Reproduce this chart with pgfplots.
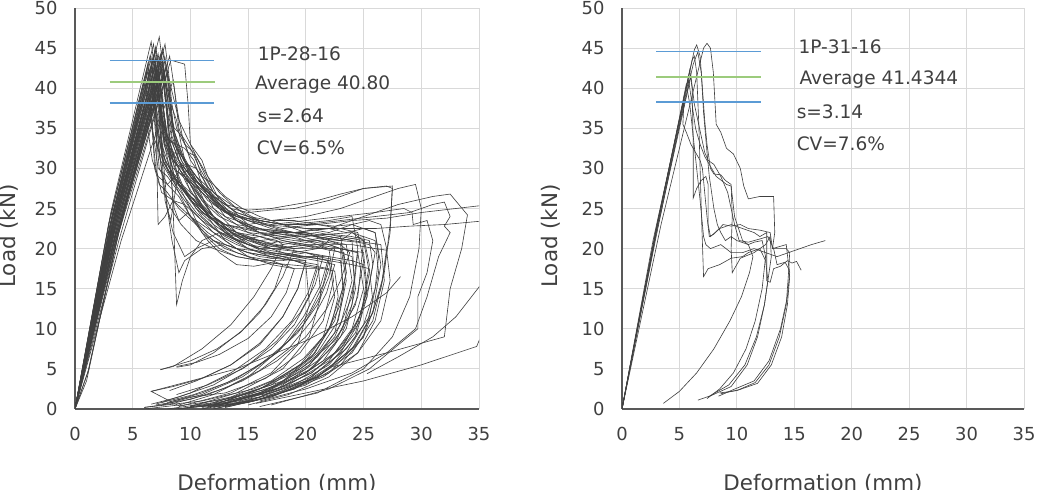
\documentclass[border=0pt]{standalone}
\usepackage{pgfplots}
\pgfplotsset{compat=1.18}
\usepackage{fontspec}
\setmainfont{DejaVu Sans}
\definecolor{avgblue}{HTML}{5B9BD5}
\definecolor{avggreen}{HTML}{9CCB7C}
\definecolor{txt}{HTML}{404040}
\tikzset{cv/.style={draw=black!75, line width=0.62bp}}
\pgfplotsset{myax/.style={
  width=404bp, height=401bp, scale only axis, anchor=south west,
  xmin=0, xmax=35, ymin=0, ymax=50,
  xtick={0,5,...,35}, ytick={0,5,...,50},
  grid=major, grid style={draw=black!15, line width=0.9bp},
  axis x line*=bottom, axis y line*=left,
  axis line style={draw=black!65, line width=1.1bp, -},
  major tick length=0pt,
  tick label style={font=\fontsize{18}{20}\selectfont, text=txt},
  /pgf/number format/assume math mode=true,
  yticklabel style={xshift=-14bp},
  xticklabel style={yshift=-15bp},
  clip=true}}
\begin{document}
\begin{tikzpicture}[x=1bp,y=1bp]
% ---------------- left chart ----------------
\begin{axis}[myax, at={(75bp,81bp)}]
\addplot[cv] coordinates {(0,0)(3.5,24.5)(7.3,46.4)(7.6,43)(8.0,36)(8.6,30)(9.5,27)(11,24.5)(13,23)(15,22)(18,21.5)(21,22)(23,21.5)(23.5,17)(22.5,11)(20.5,6.5)(17,3)(12,0.8)(8,0)};
\addplot[cv] coordinates {(0,0)(3.2,24)(6.8,45.5)(7.2,41)(7.5,33)(8.5,29)(10,27)(12,24)(14,22)(17,20)(20,19.5)(22,19)(21.3,15.5)(19.8,11.5)(17.8,7.5)(15,4)(12,1.8)(9,0.5)(6,0)};
\addplot[cv] coordinates {(0,0)(3,23.5)(6.5,44)(7,38)(7.8,31)(9,28)(11,25)(13,22)(16,21)(19,21.5)(24,22)(25,21)(24.5,14)(23,9)(20.5,5)(16,2)(11,0.3)};
\addplot[cv] coordinates {(0,0)(3.6,22.5)(7.8,43.8)(8.2,40)(8.5,35)(9.5,31)(10.5,28)(12,26)(14,24)(16,23)(18,22.8)(20,22.5)(22,22)(24,23)(26,22)(26.5,18)(25.8,12)(24,7.5)(21,4)(16,1.2)(12,0)};
\addplot[cv] coordinates {(0,0)(3.3,23)(7,43)(7.3,39)(7.6,32)(8,25)(8.3,23.5)(9,30)(10,28)(11,25)(13,22)(15,20)(18,19)(20,18.5)(19.3,15)(18,11.5)(16,8)(13.5,5.5)(10.5,3.5)(8.2,2.3)};
\addplot[cv] coordinates {(0,0)(2.9,23)(6.2,42)(6.6,36)(7.0,30)(7.5,27)(8.5,26)(10,24)(12,22)(14,20)(16,19)(19,18.5)(21,18)(20.2,14.5)(18.8,11)(16.5,7.5)(13.5,4.5)(10,2)(7,0.6)};
\addplot[cv] coordinates {(0,0)(3.4,22)(7.5,42.5)(8,37)(8.8,33)(9.5,32.5)(10.3,31)(11,28)(12,25)(14,22)(16,20.5)(19,20)(23,20)(24.5,19.5)(24,13)(22.5,8)(20,4.5)(16,1.8)(11,0)};
\addplot[cv] coordinates {(0,0)(3.8,22)(8.3,43.5)(9.5,43)(9.8,38)(10,33)(11,30)(12,27)(13.5,25)(15,24.5)(17,24.8)(19,25)(22,26)(25,27.5)(27.5,27.8)(27.3,22)(26.5,15)(25,9)(22,4.5)(17,1.5)(13,0.2)};
\addplot[cv] coordinates {(0,0)(3.2,24)(6.9,44.5)(7.2,40)(7.4,34)(7.8,26)(8.5,22)(9.5,19)(10.5,20)(12,21)(14,20)(17,19.5)(20,19)(22,18.5)(22.5,14)(21.5,9)(19.5,5.5)(16,2.5)(12,0.5)};
\addplot[cv] coordinates {(0,0)(3.1,22)(6.6,41)(7,35)(7.3,30)(8,28)(9,29.5)(10,28)(11.5,24)(13,21)(15,19)(17,18)(19,17.5)(21,17.5)(20.3,14)(19,10.5)(17,7.5)(14.5,5)(11.5,3)(8.8,1.8)};
\addplot[cv] coordinates {(0,0)(3.4,23.5)(7.6,45)(8.1,41)(8.4,35)(9,31)(10,29)(11.5,27)(13,24)(15,22)(17,21)(19,20.5)(21,21)(23,21.5)(25,21)(25.5,17)(24.7,11)(23,7)(20,3.5)(15,1)(11,0)};
\addplot[cv] coordinates {(0,0)(3.5,21)(7.2,40.5)(7.5,37)(8,33)(8.5,32)(9,28)(10,26)(11.5,24.5)(13,23)(15,22.5)(18,22)(21,21)(23,20.5)(23.5,16)(22.8,11)(21,7)(18,3.5)(13,1)(9,0)};
\addplot[cv] coordinates {(0,0)(3,21.5)(6.4,39)(6.8,34)(7.2,30)(8,29)(9,27)(10,25)(12,22)(14,20.5)(16,19.5)(18,19)(20,18)(22,17.5)(21.2,14)(19.8,10.5)(17.5,7)(14.5,4)(11,1.8)(7.5,0.5)};
\addplot[cv] coordinates {(0,0)(3.8,21)(8,42)(8.5,39)(9,36)(10,33)(11,31)(11.5,29)(12.5,27)(14,25)(16,23.5)(18,23)(20,23.2)(22,23.5)(24,24)(24.5,20)(24,14)(22.5,9)(20,5)(16,2)(12,0.2)};
\addplot[cv] coordinates {(0,0)(3.2,24)(7,44.8)(7.4,40)(7.7,33)(8.5,30)(9.5,29)(10.5,27.5)(12,24)(14,21.5)(16,20)(18,20.5)(20,21)(22,21.5)(24,21)(24.2,16)(23.2,10)(21,6)(17.5,2.5)(12.5,0.5)};
\addplot[cv] coordinates {(0,0)(3,23.5)(6.3,43)(6.6,38)(6.9,30)(7.3,28)(8,27)(9,25)(10.5,23)(12,21)(14,19.5)(16,18.5)(18,18)(19,17.5)(18.3,14.5)(17,11.5)(15,8.8)(12.5,6.8)(10.5,5.8)(8.8,5.3)};
\addplot[cv] coordinates {(0,0)(3.6,21.5)(7.7,41.5)(8.1,38)(8.6,35)(9.3,34)(10,32.5)(10.8,30)(12,27)(13.5,25)(15,23)(17,22)(19,21.5)(21,20.5)(23,20)(25,19.5)(25.3,15)(24.3,9.5)(22,5.5)(18,2.2)(13,0.3)};
\addplot[cv] coordinates {(0,0)(3.1,23)(6.7,42.5)(7,37)(7.3,32)(8,25)(8.4,21)(9,17)(9.5,18.5)(11,20)(13,20.5)(15,19.5)(17,19)(19,18.5)(20,18)(20.3,13)(19.3,8)(17,4.5)(13.5,2)(9,0.3)};
\addplot[cv] coordinates {(0,0)(3.4,22.5)(7.4,43.2)(7.8,39)(8.2,34)(9,31)(10,28)(11.5,25.5)(13,24)(15,23)(17,23.5)(20,24)(23,25)(26,26.5)(28,27.5)(29.5,28)(30,25)(29.8,20)(29,14)(27.5,9)(25,5)(21,2)(16,0.3)};
\addplot[cv] coordinates {(0,0)(3.4,21)(7.1,40)(7.4,36)(7.8,33)(8.5,31)(9.2,30)(10,28.5)(11,26)(12.5,23)(14,21)(16,20)(18,20)(20,20.5)(22,20.5)(23,20)(23.2,15)(22,10)(20,6)(16.5,2.8)(12,0.5)};
\addplot[cv] coordinates {(0,0)(2.9,22)(6.1,40.5)(6.4,37)(6.8,34)(7.3,32)(8,30)(9,27)(10,24)(11.5,21.5)(13,20)(15,19)(17,18.5)(18,18)(17.3,15)(16,12)(14.3,9.5)(12.3,7.5)(10,6)(7.4,4.9)};
\addplot[cv] coordinates {(0,0)(3.8,22.5)(8.2,44)(8.6,40)(9,35)(9.8,32)(10.5,31.5)(11.5,29)(12.5,26)(14,23.5)(16,22)(18,21.5)(20,21)(22,20.5)(24,20.5)(26,20)(27,19.8)(27.3,16)(26.5,11)(24.5,7)(21.5,4)(17,1.5)(13,0.2)};
\addplot[cv] coordinates {(0,0)(3.3,20.5)(6.8,38.5)(7.1,35)(7.4,31)(7.7,27)(8.3,25)(9.2,23)(10.5,21)(12,20)(14,19)(16,18.5)(18,19)(20,19.5)(21.5,19)(20.8,15.5)(19.5,12)(17.5,8.5)(15,5.5)(12,3)(9,1.5)(6.6,0.6)};
\addplot[cv] coordinates {(0,0)(3.5,23)(7.5,44)(7.9,40)(8.2,33)(8.5,25)(8.8,13)(9.3,16)(10,19)(11,21)(12.5,22)(14,21.5)(16,21)(18,20)(20,19.5)(21,19)(21.3,14)(20.3,9)(18,5)(14,2)(10,0.3)};
\addplot[cv] coordinates {(0,0)(3.7,22)(7.9,42.8)(8.3,38)(8.7,33)(9.5,30)(10.5,28.5)(11.5,27)(13,24.5)(15,23)(17,22)(19,22)(21,21.5)(23,21)(25,21.5)(26,21)(26.3,17)(25.5,11.5)(23.5,7.5)(20.5,4)(16,1.5)(12,0)};
\addplot[cv] coordinates {(0,0)(3.1,24.5)(6.6,45.8)(7.0,41)(7.3,36)(7.6,31)(8.4,29)(9.5,27)(11,24)(12.5,22)(14,21)(16,21.5)(18,22)(20,22)(22,21)(23.5,20.5)(24,16)(23,10.5)(21,6.5)(17.5,3)(13,0.8)(10,0.3)};
\addplot[cv] coordinates {(0,0)(3.5,22)(7.3,41.8)(7.6,38)(8,34)(8.8,31)(9.8,29)(11,27)(12.5,25)(14,24)(16,23.5)(18,23)(20,22.5)(23,22.5)(26,22.5)(29,22.8)(32,23)(35,23.4)(37,23.5)(36,12)(34.8,7.8)(30,5.5)(25,3.5)(20,2)(15.7,0.7)};
\addplot[cv] coordinates {(0,0)(3.2,23)(6.9,43.5)(7.3,39)(7.7,34)(8.5,31)(9.5,29)(11,26)(12.5,24)(14,23)(16,22.5)(19,22)(22,22.5)(25,24)(28,25.5)(31,26.5)(32.5,26.8)(34,24.2)(33.5,20)(32.5,15)(32,9)(27,7)(22.4,5.3)};
\addplot[cv] coordinates {(0,0)(3.5,22.5)(7.6,43)(8,39)(8.4,34)(9.2,31)(10.2,29)(11.5,27)(13,25)(15,23.5)(17,23)(20,23.5)(23,24)(26,24.5)(28.5,25)(29.2,24.5)(29.3,23)(30.5,23.5)(31,21)(30.5,17)(29.7,14)(29.7,10)(28,8)(25.5,5)(22,2.5)(17,0.5)};
\addplot[cv] coordinates {(0,0)(3.3,22.5)(7,42)(7.3,38)(7.7,34)(8.3,32)(9,31)(10,29)(11.5,27)(13,25.5)(15,24.8)(17,25)(19,25.5)(21,26)(23,26.8)(25,27.5)(27,27.8)(27.5,27.5)(27.3,23)(26.8,17)(25.8,11)(24,7)(21,4)(17,2)(13,1)};
\addplot[cv] coordinates {(0,0)(3.1,22.5)(6.5,42.2)(6.8,39)(7.1,35)(7.5,32)(8.2,30)(9,28.5)(10,26)(11.5,24)(13,22.5)(15,21)(17,20)(19,19)(21,18.5)(22.5,18)(21.8,14.5)(20.5,11)(18.5,7.5)(16,4.8)(13,2.6)(10,1.2)(7,0.5)};
\addplot[cv] coordinates {(0,0)(3.6,23.5)(7.8,45.5)(8.1,42)(8.4,38)(8.8,35)(9.5,33)(10.3,32)(11,29)(12,26)(13.5,24)(15,22.5)(17,21.5)(19,21)(21,21)(23,20)(24.5,19.5)(25,15)(24,10)(22,6)(18.5,3)(14,0.8)(10,0.2)};
\addplot[cv] coordinates {(0,0)(2.9,21)(6,38)(6.3,35)(6.7,31)(7.2,29)(8,28)(9,26.5)(10,24)(11.5,22)(13,20.5)(15,19.5)(17,19)(19,19.5)(21,20)(22.5,20)(22,16.5)(21,13)(19.3,9.5)(17,6.5)(14,3.8)(11,2)(8,0.8)};
\addplot[cv] coordinates {(0,0)(3.3,23)(7.1,43.7)(7.5,39)(7.9,33)(8.6,29)(9.3,27)(10,25)(11,22)(12.5,20)(14,19)(16,18.5)(18,18.5)(20,19)(22,19)(24,18.5)(25,18)(25.3,14)(24.3,9)(22.3,5.5)(19,2.5)(15,0.8)(11,0.2)};
\addplot[cv] coordinates {(0,0)(4,21)(8.5,41)(8.9,37)(9.3,34)(10,31)(11,29)(12,28)(13,26.5)(14.5,25)(16,24)(18,23)(20,22)(22,21.5)(24,21)(26.5,20.5)(26.8,16)(26,11)(24.5,7)(22,4)(18.5,1.8)(15,0.5)};
\addplot[cv] coordinates {(0,0)(3.2,23.5)(6.8,44)(7,38)(7.1,30)(7.2,23)(7.8,24)(8.5,26)(9.5,25.5)(11,23.5)(13,21.5)(15,20)(17,19)(19,18.5)(20,18.5)(19.3,15)(18,11.5)(16,8.2)(13.5,5.5)(11,3.8)(8.5,2.8)(6.6,2.2)};
\addplot[cv] coordinates {(0,0)(3.5,21.5)(7.4,40.8)(7.7,37)(8.1,33)(8.8,30.5)(9.5,30)(10.5,28)(11.5,26)(13,24.5)(15,23.5)(17,22.5)(19,22)(21,21.5)(23,21)(24,22)(25,21.5)(25.5,18)(24.8,12)(23.3,8)(20.5,4.5)(16,1.5)(11.5,0.3)};
\addplot[cv] coordinates {(0,0)(3.4,22)(7.2,42)(7.6,38)(8,34)(8.7,31)(9.7,28)(11,25)(12.5,23)(14,22)(16,21.5)(17.5,21)(18,20.5)(17,17.5)(15.5,14)(13.5,10.5)(11,7.5)(8.5,5.3)(7.4,4.9)};
\addplot[cv] coordinates {(0,0)(3.2,22)(6.7,41)(7,37)(7.4,33)(8,30)(9,28)(10.3,26)(12,23.5)(13.5,22)(15,21)(17,20.5)(19,20)(18,16.5)(16.5,13)(14.5,9.8)(12,7)(10,5.5)(8.8,5.2)};
\addplot[cv] coordinates {(0,0)(3.5,23.5)(7.6,44.6)(8,41)(8.4,36)(9,32)(10,30)(11,28)(12.5,26)(14,24.5)(16,23.5)(18,23)(20,23)(23,23.5)(26,24)(29,24.5)(31,25.5)(32,25.8)(32.5,24)(32,22.8)(32.5,22)(31.5,19)(30.5,14)(29.5,10)(27,7)(24,4.5)(20,2.5)(16,1)};
\addplot[cv] coordinates {(0,0)(3.3,22)(7,42.3)(7.4,38)(7.8,34)(8.5,31)(9.5,29)(11,27)(12.5,25)(14,24)(16,23.5)(18,23)(21,23)(24,23.5)(27,23.8)(30,24.5)(33,25)(36,25.5)(37,20)(35,15.2)(33,11.5)(31,9)(28,6.5)(25.3,4.4)};
\addplot[cv] coordinates {(0,0)(1.2,5)(3.8,22)(7.7,42.5)(8.1,39)(8.5,35)(9.2,32)(10,30)(11,28)(12.5,25.5)(14,23.5)(16,22)(18,21)(20,20.5)(22,20)(24,19)(24.3,15)(23.5,10)(21.5,6)(18,2.8)(13,0.7)(9,0)};
\addplot[cv] coordinates {(0,0)(1.1,4.5)(3.7,21.5)(7.3,41.2)(7.7,37)(8,33)(8.6,29)(9.5,27)(10.5,26)(12,24)(13.5,22)(15,20.5)(17,19.5)(19,19)(21,19)(23,18.5)(23.3,14.5)(22.5,9.5)(20.3,5.5)(17,2.5)(12.5,0.5)(8.5,0)};
\addplot[cv] coordinates {(0,0)(3.4,23)(7.2,44.3)(7.5,41)(7.8,35)(8.4,31)(9.3,28)(10.5,25)(12,23)(13.5,21.5)(15,20.5)(17,20)(19,20.3)(21,20.5)(22,20)(22.4,16)(21.5,11)(19.5,7)(16.5,3.8)(13,2)(10,1.5)(8.5,1)};
\addplot[cv] coordinates {(0,0)(3,22.8)(6.4,42.6)(6.7,39)(7,34)(7.4,31)(8.2,29)(9.2,27)(10.5,24.5)(12,22.5)(14,21)(16,20)(18,19.5)(20,19)(22,18.5)(24,18)(25.5,17.5)(25.8,13.5)(25,9)(23,5.5)(20,3)(16,1.2)(12,0.3)};
\addplot[cv] coordinates {(0,0)(3.6,22)(7.7,42)(8.1,38)(8.6,34)(9.4,31)(10.5,29)(12,27)(13.5,25.5)(15,24)(17,23.5)(19,23.5)(21,23)(23,22.5)(24.5,22)(25,18.5)(24.3,13)(22.5,8.5)(19.5,5)(15.5,2.5)(11,1)(6,0.2)};
\addplot[cv] coordinates {(0,0)(3.3,23.5)(7.0,45.2)(7.3,42)(7.5,37)(7.8,33)(8.2,31.5)(8.7,32)(9.3,30)(10,27)(10.8,26)(11.5,24)(12.5,23.5)(13.5,22)(15,21.5)(16.5,20.5)(18,21)(19.5,20.5)(21,20)(22,21)(23,20.5)(23.8,19.5)(23,16)(21.8,12.5)(20,9)(17.5,6)(14.5,3.5)(11.5,1.8)(8.5,0.7)(6,0.2)};
\addplot[cv] coordinates {(0,0)(3.4,22)(7.4,42.8)(7.7,40)(8,36)(8.3,29)(8.6,25)(9,23.5)(9.8,24.5)(10.5,23)(11.5,21)(12.5,19.5)(14,18)(15.5,17.8)(17,18.2)(18.5,18)(20,17.8)(21.5,17.5)(22.5,17.2)(22.8,14)(22.2,10.5)(20.8,7)(18.5,4.2)(15.5,2.2)(12,0.8)};
\addplot[cv] coordinates {(0,0)(3.2,22.5)(6.9,43)(7.2,40)(7.5,36.5)(8,34)(8.5,33)(9,31)(9.5,29.5)(10,30)(10.5,28.5)(11.3,27)(12.2,25.5)(13.2,24.5)(14.5,24)(16,23.2)(17.5,22.5)(19,22)(20.5,22.3)(22,22.5)(23.5,22)(25,22.5)(26,22)(26.3,19)(26,15)(25,10.5)(23.5,7)(21,4)(17.5,1.8)(14,0.6)};
\addplot[cv] coordinates {(0,0)(3.1,23)(6.6,43.8)(6.9,40)(7.2,35)(7.6,31)(8.1,29.5)(8.8,28)(9.5,27.5)(10.3,26)(11,24.5)(12,23.5)(13,22.5)(14.5,21.8)(16,21)(17.5,20.5)(19,20)(20.5,20.3)(22,19.8)(23.3,19.5)(23.5,17)(23,13)(21.8,9.5)(19.8,6.3)(17,3.5)(13.5,1.5)(10,0.4)};
\addplot[cv] coordinates {(0,0)(3.6,22.5)(7.6,43.4)(7.9,40.5)(8.3,38)(8.8,36)(9.2,33)(9.6,30.5)(10.3,29)(11,27.5)(12,26.5)(13,25.5)(14,24.5)(15,24)(16.5,23)(18,22.5)(19.5,22.8)(21,23)(22.5,22.8)(24,23)(25.5,23.5)(26.5,23)(27,20)(26.6,16)(25.8,12)(24.3,8)(22,5)(19,2.5)(15.5,1)(12,0.2)};
\addplot[cv] coordinates {(0,0)(1,3.5)(3.6,21)(7.0,40.3)(7.3,37.5)(7.7,35)(8.2,33.5)(8.7,33)(9.3,31.5)(10,29)(10.7,27.5)(11.5,25)(12.5,23)(13.5,21.5)(15,20.5)(16.5,19.5)(18,19.3)(19.5,19)(21,18.8)(22,18.5)(21.5,15.5)(20.3,12)(18.5,8.5)(16,5.5)(13.2,3.3)(10.3,1.8)(7.5,0.8)};
\addplot[cv] coordinates {(0,0)(3.2,22.5)(6.9,42.6)(7.3,39)(7.6,34)(8.2,30)(9,28)(10,26.5)(11.5,24.5)(13,23)(14.5,22.5)(16,22)(18,21.8)(20,21.5)(22,21.8)(24,21.5)(25.5,21)(25.8,18)(25.3,14)(24.2,10)(22.5,7)(20,4.5)(17,2.6)(13,1.2)(9,0.4)(6.6,2.2)(14,5)(20,8.5)(24,11.5)(27,14.5)(28.2,16.5)};
\addplot[cv] coordinates {(0,0)(3.5,23)(7.4,44.2)(7.7,41)(8,37)(8.4,33.5)(9,32)(9.7,30.5)(10.5,30)(11.2,28.5)(12,26.5)(13,24.8)(14,23.5)(15.5,22.5)(17,22.3)(18.5,22)(20,21.8)(21.5,21.2)(23,21)(24.5,20.8)(25.5,20.5)(26,19.5)(25.5,15.5)(24.5,11)(23,7.5)(20.5,4.5)(17.5,2.5)(14,1)(10.5,0.3)};
\addplot[draw=avgblue, line width=1.7bp] coordinates {(3,43.44)(12,43.44)};
\addplot[draw=avggreen, line width=1.7bp] coordinates {(3,40.8)(12.1,40.8)};
\addplot[draw=avgblue, line width=1.7bp] coordinates {(3,38.16)(12,38.16)};
\begin{scope}[every node/.style={anchor=base west, inner sep=0pt, font=\fontsize{18.6}{20}\selectfont, text=txt}]
\node at (axis cs:15.82,43.5) {1P-28-16};
\node at (axis cs:15.59,39.9) {Average 40.80};
\node at (axis cs:15.8,35.7) {s=2.64};
\node at (axis cs:15.74,31.7) {CV=6.5\%};
\end{scope}
\end{axis}
% ---------------- right chart ----------------
\begin{axis}[myax, at={(622bp,81bp)}, width=402bp]
\addplot[cv] coordinates {(0,0)(3.4,23)(7.1,45)(7.4,45.6)(7.7,45)(7.95,42)(8.2,35.5)(8.6,34.5)(9.1,32.5)(9.7,31.8)(10.3,30)(10.6,27.8)(11,26.2)(12,26.5)(13.2,26.5)(13.3,22)(13.1,20)(14.3,20.5)(14.5,18)(14.6,17)(14.4,14)(13.8,10)(12.8,6)(11.5,3.5)(9.5,2.3)(8.4,1.6)};
\addplot[cv] coordinates {(0,0)(3.1,23)(6.3,44.8)(6.5,45.4)(6.8,44)(7.0,40)(7.2,36)(7.4,33)(7.7,30)(8.0,29.3)(8.6,29.2)(9.0,28.5)(9.5,28)(9.6,24)(9.5,20)(9.6,17)(10.3,18.8)(11.5,19.5)(12.5,20.5)(12.9,21.5)(13,19)(12.7,16)(12.4,13)(11.8,9)(10.9,5.5)(9.5,2.8)(7.5,1.5)};
\addplot[cv] coordinates {(0,0)(3,22.5)(6.1,43.5)(6.3,44)(6.5,42)(6.7,35)(6.9,25)(7.1,16.5)(7.5,17.5)(8.5,18)(9.5,18.8)(10.5,19)(11,19.5)(12,20)(12.5,18.5)(12.7,16)(12.4,13)(11.7,9)(10.7,5.5)(9.3,3)(7.6,1.6)(6.6,1.1)};
\addplot[cv] coordinates {(0,0)(2.9,22)(5.9,42.3)(6.1,40)(6.2,33)(6.2,26.3)(6.5,27.5)(6.9,28.5)(7.3,29)(7.5,28)(7.5,23)(7.7,21.5)(8.5,22.5)(9.5,23)(10.5,22.5)(11.5,22)(12,21.5)(12.6,22)(12.6,16)(12.9,15.8)(13.2,17.5)(13.8,17.8)(14.4,18.5)(14.8,18.2)(15.2,18.4)(15.6,17.3)};
\addplot[cv] coordinates {(0,0)(2.8,21)(5.6,40.5)(5.9,38)(6.2,34)(6.5,30)(6.8,26)(7.1,21.5)(7.3,20.5)(7.7,20)(8.6,20.5)(9.5,19.5)(10.5,19.5)(11.5,20)(12.5,19.5)(13.5,19)(14.5,19.5)(15.5,20)(16.5,20.5)(17.7,21)};
\addplot[cv] coordinates {(0,0)(2.9,21)(5.8,41)(6.1,38)(6.4,35)(6.8,33)(7.2,31.5)(7.6,30.5)(8.2,29)(9.1,28)(9.5,27.8)(9.8,24)(10.5,21)(11,20.5)(11.4,19)(11.1,17)(10.4,14)(9.4,11)(8,7.5)(6.5,4.5)(5,2.2)(3.6,0.7)};
\addplot[cv] coordinates {(0,0)(2.7,21)(5.4,38.5)(5.3,35.5)(5.6,34.5)(6,33)(6.4,32)(6.8,31)(7.0,30)(7.2,27)(7.4,24)(7.6,21.5)(8,21.8)(8.8,23)(9.5,22.8)(10.3,23)(11,22.5)(12,22.3)(12.9,22)(13.1,20)(14.3,20)(14.6,19.5)(14.5,17)(14.3,13)(13.7,9)(12.8,5.5)(11.6,3.3)(10,2.3)(8.5,2)};
\addplot[cv] coordinates {(0,0)(3,22.5)(6.2,43)(6.6,44.5)(6.9,42)(7.1,37)(7.4,32)(7.6,29)(8,25)(8.3,23)(8.6,22)(9,21)(9.5,21.5)(10,21)(11,20.5)(11.5,20.8)(12.2,21)(12.5,19)(12.2,15)(11.6,11)(10.8,7.5)(9.7,4.5)(8.5,2.5)(7.4,1.3)};
\addplot[cv] coordinates {(0,0)(3,22)(6,41.5)(6.3,38)(6.6,36)(6.9,34)(7.2,32)(7.5,31)(8.0,30.5)(8.6,29)(9.2,27)(9.5,25)(9.8,23)(10.2,21)(11,20.8)(12,21.2)(12.7,21.5)(13.2,20)(13.5,18)(14.2,18.3)(14.5,17.5)(14.6,16.5)(14.4,13)(13.9,9)(13,5.5)(11.8,3.2)(10.2,2.4)(8.6,1.9)};
\addplot[draw=avgblue, line width=1.7bp] coordinates {(3,44.57)(12.07,44.57)};
\addplot[draw=avggreen, line width=1.7bp] coordinates {(3,41.43)(12.07,41.43)};
\addplot[draw=avgblue, line width=1.7bp] coordinates {(3,38.29)(12.07,38.29)};
\begin{scope}[every node/.style={anchor=base west, inner sep=0pt, font=\fontsize{18.6}{20}\selectfont, text=txt}]
\node at (axis cs:15.35,44.35) {1P-31-16};
\node at (axis cs:15.44,40.5) {Average 41.4344};
\node at (axis cs:15.2,36.25) {s=3.14};
\node at (axis cs:15.2,32.2) {CV=7.6\%};
\end{scope}
\end{axis}
% axis titles
\begin{scope}[every node/.style={inner sep=0pt, font=\fontsize{21.5}{24}\selectfont, text=txt}]
\node[rotate=90, anchor=base] at (15.5bp,254bp) {Load (kN)};
\node[rotate=90, anchor=base] at (557bp,254bp) {Load (kN)};
\node[anchor=base] at (277bp,0bp) {Deformation (mm)};
\node[anchor=base] at (823bp,0bp) {Deformation (mm)};
\end{scope}
\pgfresetboundingbox
\path[use as bounding box] (0,0) rectangle (1039bp,490bp);
\end{tikzpicture}
\end{document}
